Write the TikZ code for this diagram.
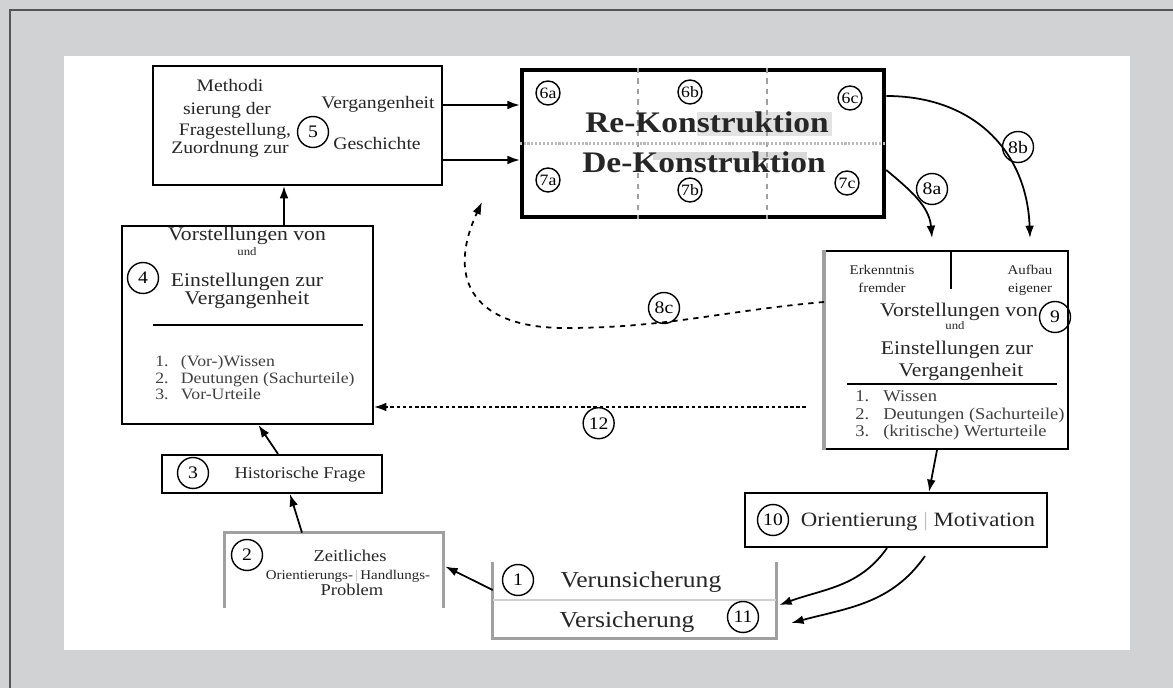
\documentclass[tikz,border=0pt]{standalone}
\usepackage{fontspec}
\setmainfont[FakeStretch=1.12]{Liberation Serif}
\usetikzlibrary{arrows.meta,calc}
\definecolor{pagegray}{HTML}{D1D2D4}
\definecolor{framegray}{HTML}{555555}
\definecolor{softgray}{HTML}{A0A0A0}
\newcommand\fsz[1]{\fontsize{#1}{#1}\selectfont}
\tikzset{
  box/.style={draw, line width=1.2pt, inner sep=0pt},
  openbox/.style={inner sep=0pt},
  edgegray/.style={draw=softgray, line width=1.8pt},
  num/.style={circle, draw, solid, line width=0.8pt, inner sep=0pt, minimum size=0.62cm, font=\fsz{10}},
  smallnum/.style={num, minimum size=0.48cm, font=\fsz{9}},
  arr/.style={-{Latex[length=7pt,width=5pt]}, line width=1pt},
  txt/.style={anchor=base, inner sep=0pt, text=black!85},
  listtxt/.style={anchor=base west, inner sep=0pt, text=black!75},
}
\begin{document}
\begin{tikzpicture}[x=0.02cm, y=-0.02cm]
  \useasboundingbox (0,0) rectangle (1173,688);
  \fill[pagegray] (0,0) rectangle (1173,688);
  \draw[framegray, line width=1.2pt] (10,700) -- (10,10) -- (1190,10);
  \fill[white] (64,56) rectangle (1130,650);

  % boxes
  \node[box, minimum width=5.78cm, minimum height=2.38cm] (b5) at (297.5,125.5) {};
  \node[box, line width=2.6pt, minimum width=7.24cm, minimum height=2.94cm] (re) at (703,143.5) {};
  \node[box, minimum width=5.02cm, minimum height=3.96cm] (b4) at (247.5,325) {};
  \node[box, minimum width=4.4cm, minimum height=0.76cm] (b3) at (272,474) {};
  \node[openbox, minimum width=4.36cm, minimum height=1.5cm] (b2) at (334,570.5) {};
  \node[openbox, minimum width=5.66cm, minimum height=1.52cm] (b1) at (634.5,600) {};
  \node[box, minimum width=6.04cm, minimum height=1.08cm] (b10) at (896,520) {};
  \node[box, minimum width=4.86cm, minimum height=3.96cm] (b9) at (946.5,350) {};

  % open and gray edges
  \draw[edgegray] (b2.south west) -- (b2.north west) -- (b2.north east) -- (b2.south east);
  \draw[edgegray] (b1.north west) -- (b1.south west) -- (b1.south east) -- (b1.north east);
  \draw[softgray!50, line width=1pt] (b1.west) -- (b1.east);
  \draw[edgegray] (b9.south west) -- (b9.north west);

  % Re-/De-Konstruktion
  \fill[gray!22] (697,112) rectangle (832,136);
  \fill[gray!30] (653,152) rectangle (807,160);
  \draw[softgray, dashed, line width=0.6pt] ($(re.north)+(-65,0)$) -- ($(re.south)+(-65,0)$);
  \draw[softgray, dashed, line width=0.6pt] ($(re.north)+(64,0)$) -- ($(re.south)+(64,0)$);
  \draw[gray!55, densely dotted, line width=1.2pt] (re.west) -- (re.east);
  \node[txt, font=\fsz{17}\bfseries] (reK) at (707,133) {Re-Konstruktion};
  \node[txt, font=\fsz{17}\bfseries] (deK) at (704,173) {De-Konstruktion};
  \node[smallnum] (n6a) at (548,93) {6a};
  \node[smallnum] (n6b) at (690,92) {6b};
  \node[smallnum] (n6c) at (850,98) {6c};
  \node[smallnum] (n7a) at (548,180) {7a};
  \node[smallnum] (n7b) at (690,190) {7b};
  \node[smallnum] (n7c) at (847,183) {7c};

  % box 5
  \node[txt, font=\fsz{10}] (m1) at (230,92) {Methodi};
  \node[txt, font=\fsz{10}] (m2) at (227,115) {sierung der};
  \node[txt, font=\fsz{10}] (m3) at (235,136) {Fragestellung,};
  \node[txt, font=\fsz{10}] (m4) at (230,154) {Zuordnung zur};
  \node[txt, font=\fsz{10}] (vg) at (378,109) {Vergangenheit};
  \node[txt, font=\fsz{10}] (gs) at (377,150) {Geschichte};
  \node[num] (n5) at (313,132) {5};

  % box 4
  \node[txt, font=\fsz{11}] (v4a) at (247,241) {Vorstellungen von};
  \node[txt, font=\fsz{6.5}] (v4b) at (247,256) {und};
  \node[txt, font=\fsz{11}] (v4c) at (247,287) {Einstellungen zur};
  \node[txt, font=\fsz{11}] (v4d) at (247,305) {Vergangenheit};
  \node[num] (n4) at (143,278) {4};
  \draw[line width=1.2pt] ($(b4.center)+(-94.5,0)$) -- ($(b4.center)+(115.5,0)$);
  \node[listtxt, font=\fsz{9}] (l41) at (155,367) {1.\hspace{7pt}(Vor-)Wissen};
  \node[listtxt, font=\fsz{9}] (l42) at (155,384) {2.\hspace{7pt}Deutungen (Sachurteile)};
  \node[listtxt, font=\fsz{9}] (l43) at (155,400) {3.\hspace{7pt}Vor-Urteile};

  % box 3
  \node[num] (n3) at (193,473) {3};
  \node[txt, font=\fsz{9.4}] (hf) at (300,479) {Historische Frage};

  % box 2
  \node[num] (n2) at (247,555) {2};
  \node[txt, font=\fsz{9.4}] (z1) at (350,562) {Zeitliches};
  \node[txt, font=\fsz{7.6}] (z2) at (348,580) {Orientierungs-\,{\color{gray!50}|}\,Handlungs-};
  \node[txt, font=\fsz{9.4}] (z3) at (352,596) {Problem};

  % box 1
  \node[num] (n1) at (518,580) {1};
  \node[txt, font=\fsz{13}] (vu) at (641,588) {Verunsicherung};
  \node[txt, font=\fsz{13}] (vs) at (627,628) {Versicherung};
  \node[num] (n11) at (743,617) {11};

  % box 10
  \node[num] (n10) at (773,520) {10};
  \node[txt, font=\fsz{11.6}] (om) at (918,527) {Orientierung {\color{gray!50}|} Motivation};

  % box 9
  \draw[line width=1.2pt] ($(b9.north)+(4.5,0)$) -- ++(0,39);
  \node[txt, font=\fsz{7.6}] (e1) at (882,275) {Erkenntnis};
  \node[txt, font=\fsz{7.6}] (e2) at (882,293) {fremder};
  \node[txt, font=\fsz{7.6}] (a1) at (1030,275) {Aufbau};
  \node[txt, font=\fsz{7.6}] (a2) at (1030,293) {eigener};
  \node[txt, font=\fsz{11}] (v9a) at (959,317) {Vorstellungen von};
  \node[txt, font=\fsz{6.5}] (v9b) at (955,330) {und};
  \node[txt, font=\fsz{11}] (v9c) at (957,355) {Einstellungen zur};
  \node[txt, font=\fsz{11}] (v9d) at (961,377) {Vergangenheit};
  \node[num] (n9) at (1055,317) {9};
  \draw[line width=1.2pt] ($(b9.center)+(-99.5,34)$) -- ($(b9.center)+(110.5,34)$);
  \node[listtxt, font=\fsz{9.4}] (l91) at (855,402) {1.\hspace{8pt}Wissen};
  \node[listtxt, font=\fsz{9.4}] (l92) at (855,420) {2.\hspace{8pt}Deutungen (Sachurteile)};
  \node[listtxt, font=\fsz{9.4}] (l93) at (855,437) {3.\hspace{8pt}(kritische) Werturteile};

  % connectors
  \draw[arr] ($(b5.east)+(0,-20.5)$) -- ($(re.west)+(0,-38.5)$);
  \draw[arr] ($(b5.east)+(0,34.5)$) -- ($(re.west)+(0,16.5)$);
  \draw[arr] ($(b4.north)+(36.5,0)$) -- ($(b5.south)+(-13.5,0)$);
  \draw[arr] ($(b3.north)+(6,0)$) -- ($(b4.south)+(11,0)$);
  \draw[arr] ($(b2.north)+(-32,0)$) -- ($(b3.south)+(18,0)$);
  \draw[arr] ($(b1.west)+(0,-10)$) -- ($(b2.east)+(2,-4)$);
  \draw[arr] ($(b9.south)+(-9.5,0)$) -- ($(b10.north)+(33,0)$);
  \draw[arr] ($(b10.south)+(-9,0)$) to[out=-125, in=20] ($(b1.east)+(3,5)$);
  \draw[arr] ($(b10.south)+(29,8)$) to[out=-125, in=15] ($(b1.east)+(15,23)$);
  \draw[arr] ($(re.east)+(0,26.5)$) to[out=-40, in=95] ($(b9.north)+(-14.5,-12)$);
  \draw[arr] ($(re.east)+(0,-47.5)$) to[out=0, in=92, looseness=1.1] ($(b9.north)+(83.5,-12)$);
  \node[num] (n8a) at (932,189) {8a};
  \node[num] (n8b) at (1018,147) {8b};

  \coordinate (c8low) at (565,328);
  \coordinate (c8tip) at (482,202);
  \draw[arr, dashed] ($(b9.west)+(0,-48)$) to[out=185, in=0] (c8low) to[out=180, in=-115, looseness=1.5] (c8tip);
  \node[num] (n8c) at (664,308) {8c};

  \draw[arr, dash pattern=on 2pt off 1.5pt] ($(b9.west)+(-18,57)$) -- ($(b4.east)+(0,82)$)
    node[num, pos=0.48, below=0pt] (n12) {12};
\end{tikzpicture}
\end{document}
